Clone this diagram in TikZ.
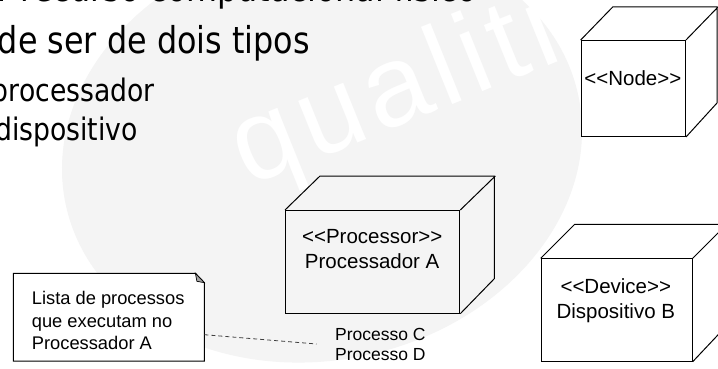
\documentclass[tikz,border=0pt]{standalone}
\usepackage{fontspec}
\setmainfont{Liberation Sans}
\newfontfamily\slidefont[FakeStretch=0.86]{DejaVu Sans}
\newfontfamily\wmfont[LetterSpace=6]{Liberation Sans}
\usetikzlibrary{calc}
\newcommand\dlt{<\kern0pt<}
\newcommand\dgt{>\kern0pt>}
\definecolor{wmgrey}{gray}{0.955}
\begin{document}
\begin{tikzpicture}[x=1pt,y=-1pt,
  boxface/.style={draw=black, line width=1pt, inner sep=0pt, anchor=north west},
  edge3d/.style={draw=black, line width=1pt, line join=miter},
  lbl/.style={font=\fontsize{20.5}{25}\selectfont, align=center, inner sep=0pt},
  slideA/.style={font=\slidefont\fontsize{37}{44}\selectfont, inner sep=0pt, anchor=base east},
  slideB/.style={font=\slidefont\fontsize{31}{37}\selectfont, inner sep=0pt, anchor=base east},
  notetxt/.style={font=\fontsize{18.3}{22.6}\selectfont, align=left, inner sep=0pt, anchor=north west},
  proctxt/.style={font=\fontsize{17.5}{20}\selectfont, align=left, inner sep=0pt, anchor=north west},
  link/.style={draw=black!75, line width=0.8pt, dash pattern=on 4pt off 3pt}]
\useasboundingbox (0,0) rectangle (718,369);
\clip (0,0) rectangle (718,369);
\fill[white] (0,0) rectangle (718,369);
% watermark
\fill[wmgrey, rotate around={12:(322,150)}] (322,150) ellipse [x radius=262, y radius=210];
\node[rotate=22, text=white, font=\wmfont\fontsize{115}{115}\selectfont, inner sep=0pt] (wmtext) at (396,95) {qualiti};
% slide text
\node[slideA] (t0) at (477,2) {ent: recurso computacional físico};
\node[slideA] (t1) at (310,53.3) {de ser de dois tipos};
\node[slideB] (t2) at (155,101.7) {processador};
\node[slideB] (t3) at (138,140) {dispositivo};
% Node cube
\node[boxface, minimum width=104.3pt, minimum height=96pt] (N) at (580.7,40) {};
\draw[edge3d] (N.north west) -- ++(32,-33) -- ++(104.3,0) -- ++(0,96) -- (N.south east)
  (N.north east) -- ++(32,-33);
\node[lbl] (Nl) at (632.8,78.3) {\dlt Node\dgt};
% Processor cube
\node[boxface, minimum width=174.3pt, minimum height=102.7pt] (P) at (285,210) {};
\draw[edge3d] (P.north west) -- ++(35,-34) -- ++(174.3,0) -- ++(0,102.7) -- (P.south east)
  (P.north east) -- ++(35,-34);
\node[lbl] (Pl) at (372.2,249.2) {\dlt Processor\dgt\\Processador A};
% Device cube
\node[boxface, minimum width=151pt, minimum height=102.4pt] (D) at (540.7,258.3) {};
\draw[edge3d] (D.north west) -- ++(34,-34) -- ++(151,0) -- ++(0,102.4) -- (D.south east)
  (D.north east) -- ++(34,-34);
\node[lbl] (Dl) at (615.8,300.5) {\dlt Device\dgt\\Dispositivo B};
% note
\node[inner sep=0pt, minimum width=190.7pt, minimum height=87.4pt, anchor=north west] (note) at (13.3,273.3) {};
\filldraw[fill=white, edge3d] (note.north west) -- ($(note.north east)+(-9,0)$) -- ($(note.north east)+(0,9.4)$)
  -- (note.south east) -- (note.south west) -- cycle;
\filldraw[fill=black!35, draw=black, line width=0.7pt] ($(note.north east)+(-9,0)$) -- ($(note.north east)+(-7.5,8)$) -- ($(note.north east)+(0,9.4)$) -- cycle;
\node[notetxt] (nt) at (31.7,291.2) {Lista de processos\\que executam no\\Processador A};
% processes
\node[proctxt] (procs) at (335,328.5) {Processo C\\Processo D};
\coordinate (dashend) at (316.7,344);
\draw[link] ($(note.south east)+(0,-26.4)$) -- (dashend);
\end{tikzpicture}
\end{document}
